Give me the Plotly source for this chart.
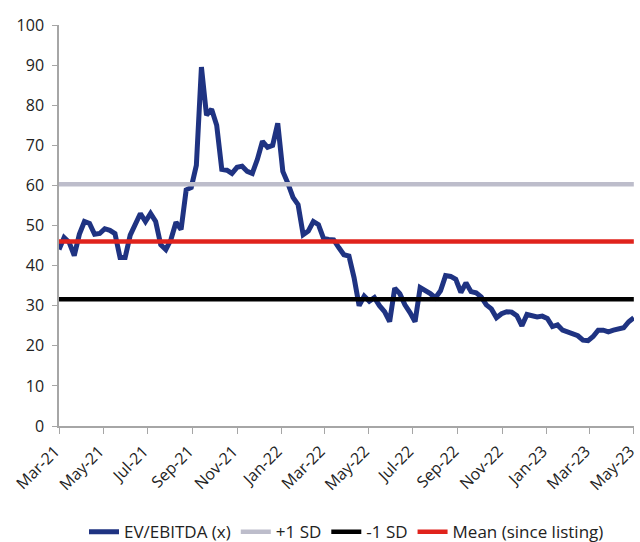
import pandas as pd
import plotly.graph_objects as go

start_date = "2021-03-01"
n_weeks = 114
ev_ebitda = [
    44, 47, 45.8, 42.5, 47.8, 51, 50.5, 47.8, 48, 49.2,
    48.8, 48, 42, 42, 47.6, 50.5, 53, 51, 53, 51,
    45.2, 44, 46.5, 50.8, 49, 58.9, 59.5, 65, 89.5, 77.5,
    79, 75, 64, 63.8, 63, 64.5, 64.8, 63.5, 63, 66.5,
    71, 69.5, 70, 75.5, 63.5, 60.5, 57, 55.2, 47.7, 48.6,
    51, 50.2, 46.8, 46.5, 46.4, 44.5, 42.7, 42.4, 37, 30,
    32.4, 31.1, 32, 30, 28.5, 26, 34.4, 33, 30.2, 28.3,
    26, 34.5, 33.8, 33, 32, 33.7, 37.5, 37.3, 36.6, 33.3,
    35.7, 33.5, 33.2, 32.2, 30.2, 29.2, 27, 28, 28.5, 28.4,
    27.5, 25, 27.8, 27.5, 27.2, 27.4, 26.8, 24.8, 25.2, 23.9,
    23.4, 23.2, 22.5, 21.4, 21.3, 22.3, 23.9, 23.9, 23.5, 23.9,
    24.2, 24.5, 26, 27,
]
plus_1sd = 60.3
minus_1sd = 31.6
mean_val = 46.0
tick_dates = ["2021-03-01", "2021-05-01", "2021-07-01", "2021-09-01", "2021-11-01",
              "2022-01-01", "2022-03-01", "2022-05-01", "2022-07-01", "2022-09-01",
              "2022-11-01", "2023-01-01", "2023-03-01", "2023-05-01"]
tick_labels = ["Mar-21", "May-21", "Jul-21", "Sep-21", "Nov-21", "Jan-22", "Mar-22",
               "May-22", "Jul-22", "Sep-22", "Nov-22", "Jan-23", "Mar-23", "May-23"]

dates = pd.date_range(start_date, periods=n_weeks, freq="7D")

fig = go.Figure()
fig.add_trace(go.Scatter(x=dates, y=ev_ebitda, mode="lines", name="EV/EBITDA (x)",
                         line=dict(color="#1f3382", width=5)))
fig.add_trace(go.Scatter(x=dates, y=[plus_1sd] * n_weeks, mode="lines", name="+1 SD",
                         line=dict(color="#bdbdcb", width=4.5)))
fig.add_trace(go.Scatter(x=dates, y=[minus_1sd] * n_weeks, mode="lines", name="-1 SD",
                         line=dict(color="#000000", width=4.5)))
fig.add_trace(go.Scatter(x=dates, y=[mean_val] * n_weeks, mode="lines", name="Mean (since listing)",
                         line=dict(color="#e0231c", width=4.5)))

font = "Open Sans, Noto Sans, sans-serif"
fig.update_layout(
    width=640, height=542,
    margin=dict(l=59, r=6, t=25, b=116),
    plot_bgcolor="white", paper_bgcolor="white",
    font=dict(family=font, size=16, color="#222222"),
    showlegend=True,
    legend=dict(orientation="h", x=0.5, xanchor="center",
                yref="container", y=0.018, yanchor="middle",
                font=dict(size=17, color="#222222"), tracegroupgap=0),
    xaxis=dict(
        range=["2021-03-01", "2023-05-01 06:00"],
        tickvals=tick_dates, ticktext=tick_labels, tickangle=-45,
        showgrid=False, zeroline=False,
        showline=True, linecolor="#a6a6a6", linewidth=1.5,
        ticks="outside", ticklen=6, tickcolor="#a6a6a6",
        automargin=False, tickfont=dict(size=16),
        ticklabeloverflow="allow", ticklabelstandoff=2, ticklabelshift=-4,
    ),
    yaxis=dict(
        range=[0, 100], tickvals=list(range(0, 101, 10)),
        showgrid=False, zeroline=False,
        showline=True, linecolor="#a6a6a6", linewidth=1.5,
        ticks="outside", ticklen=5, tickcolor="#a6a6a6",
        automargin=False, tickfont=dict(size=16),
        ticklabelstandoff=5,
    ),
)

fig.write_html("out.html")
